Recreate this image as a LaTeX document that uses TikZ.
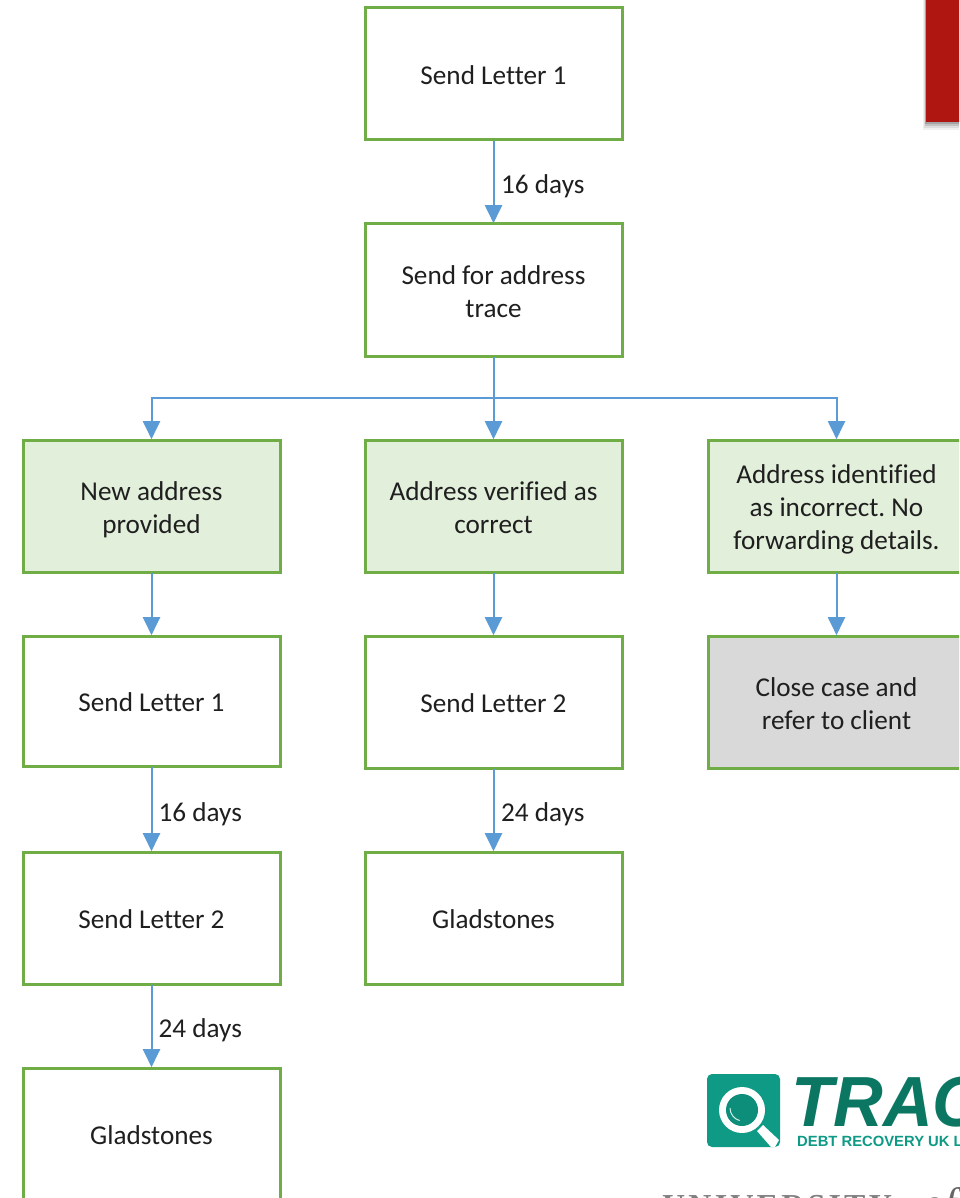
\documentclass[tikz,border=0pt]{standalone}
\usepackage{graphicx}
\usepackage{fontspec}
\setmainfont[Ligatures=CommonOff]{Carlito}
\newfontfamily\logofont{Liberation Sans}
\newfontfamily\uniletters[LetterSpace=10]{Liberation Serif}
\newfontfamily\uniscript{Liberation Serif}
\usetikzlibrary{arrows.meta,calc}
\definecolor{boxgreen}{HTML}{70AD47}
\definecolor{lightgreen}{HTML}{E2EFDA}
\definecolor{closegrey}{HTML}{D9D9D9}
\definecolor{linkblue}{HTML}{5B9BD5}
\definecolor{bannerred}{HTML}{AF1511}
\definecolor{logoteal}{HTML}{0E9A85}
\definecolor{logodark}{HTML}{0B7763}
\newcommand{\bs}{\rule[-6pt]{0pt}{33pt}}
\tikzset{
  flowbox/.style={draw=boxgreen,line width=3pt,fill=white,minimum width=257pt,minimum height=132pt,outer sep=0.8pt,align=center,inner sep=0pt,font=\fontsize{27.2pt}{33pt}\selectfont,text=black!88},
  greenbox/.style={flowbox,fill=lightgreen},
  greybox/.style={flowbox,fill=closegrey},
  link/.style={draw=linkblue,line width=2pt,-{Triangle[length=18pt,width=17pt,fill=linkblue]}},
  plainlink/.style={draw=linkblue,line width=2pt},
  daylabel/.style={anchor=west,inner sep=0pt,font=\fontsize{27.2pt}{30pt}\selectfont,text=black!88},
}
\begin{document}
\frenchspacing
\begin{tikzpicture}[x=1pt,y=-1pt]
\useasboundingbox (0,0) rectangle (959,1198);
\clip (0,0) rectangle (959,1198);
% banner with soft shadow
\foreach \d/\o in {8/.06,6/.08,4/.12,2/.16}{
  \fill[black,opacity=\o] ({926-\d/3},0) rectangle (965,{122+\d});
}
\node[fill=bannerred,inner sep=0pt,minimum width=40pt,minimum height=122pt,anchor=north west] (banner) at (926,0) {};
% boxes
\node[flowbox] (top) at (493.5,74) {\bs Send Letter 1\bs};
\node[flowbox] (trace) at (493.5,290) {\bs Send for address\\trace\bs};
\node[greenbox] (newaddr) at (151.5,506) {\bs New address\\provided\bs};
\node[greenbox] (verified) at (493.5,506) {\bs Address verified as\\correct\bs};
\node[greenbox] (incorrect) at (836.5,506) {\bs Address identified\\as incorrect. No\\forwarding details.\bs};
\node[flowbox,minimum height=130pt] (l1) at (151.5,701) {\bs Send Letter 1\bs};
\node[flowbox] (m2) at (493.5,702) {\bs Send Letter 2\bs};
\node[greybox] (close) at (836.5,702) {\bs Close case and\\refer to client\bs};
\node[flowbox] (l2) at (151.5,918) {\bs Send Letter 2\bs};
\node[flowbox] (mg) at (493.5,918) {\bs Gladstones\bs};
\node[flowbox] (lg) at (151.5,1134) {\bs Gladstones\bs};
% connectors
\coordinate (bus) at (493.5,398);
\draw[link] (top) -- (trace);
\draw[plainlink] (trace) -- (bus);
\draw[link] (bus) -- (verified);
\draw[link] (bus) -| (newaddr);
\draw[link] (bus) -| (incorrect);
\draw[link] (newaddr) -- (l1);
\draw[link] (verified) -- (m2);
\draw[link] (incorrect) -- (close);
\draw[link] (l1) -- (l2);
\draw[link] (m2) -- (mg);
\draw[link] (l2) -- (lg);
% labels
\node[daylabel] (t1) at (501,186) {16 days};
\node[daylabel] (t2) at (158.5,814) {16 days};
\node[daylabel] (t3) at (501,814) {24 days};
\node[daylabel] (t4) at (158.5,1030) {24 days};
% logo
\fill[logoteal,rounded corners=5pt] (707,1074) rectangle (780,1147);
\fill[white] (742,1110) circle (23pt);
\fill[logoteal!92!black] (742,1110) circle (16pt);
\draw[white!80!logoteal,line width=1pt] (730,1108) arc[start angle=180,end angle=255,radius=13pt];
\fill[white] (757,1131) -- (763,1125) -- (779,1140) -- (775,1147) -- (771,1147) -- cycle;
\node[anchor=base west,inner sep=0pt,text=logodark,font=\logofont\bfseries\itshape\fontsize{71pt}{71pt}\selectfont] (trac) at (791,1126) {\scalebox{.97}[1]{TRAC}};
\node[anchor=base west,inner sep=0pt,text=logoteal,font=\logofont\bfseries\fontsize{14.8pt}{15pt}\selectfont] (debt) at (797,1146) {DEBT RECOVERY UK LTD};
\node[anchor=base west,inner sep=0pt,text=black!50,font=\uniletters\bfseries\fontsize{32pt}{32pt}\selectfont] (uni) at (662,1216) {UNIVERSITY};
\node[anchor=base west,inner sep=0pt,text=black!60,font=\uniscript\itshape\fontsize{44pt}{44pt}\selectfont] (unio) at (922,1218) {of};
\end{tikzpicture}
\end{document}
